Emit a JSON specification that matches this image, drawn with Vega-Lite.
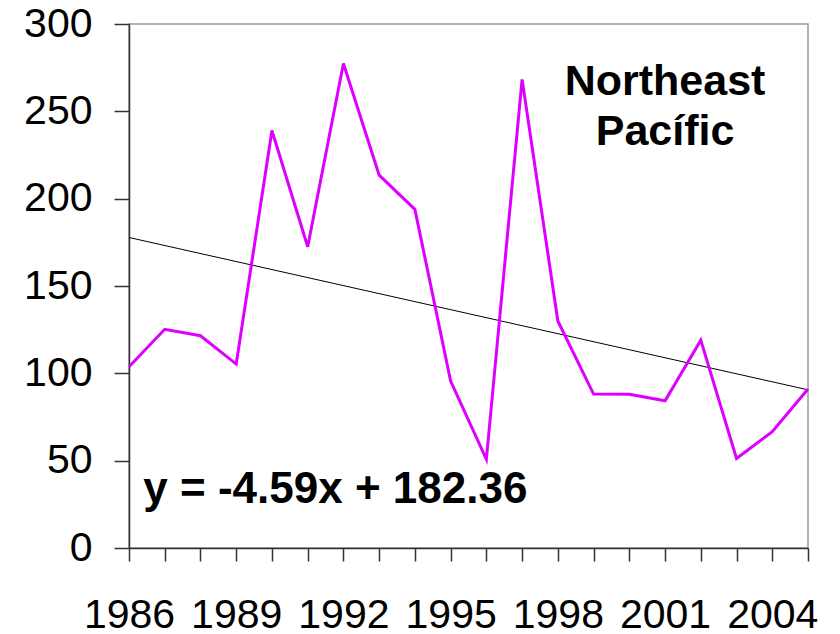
{
  "$schema": "https://vega.github.io/schema/vega-lite/v6.json",
  "width": 679,
  "height": 524,
  "autosize": {"type": "none"},
  "padding": {"left": 129, "top": 24, "right": 32, "bottom": 86},
  "background": "white",
  "config": {
    "font": "Liberation Sans",
    "view": {"stroke": "#9a9a9a", "strokeWidth": 1.5},
    "axis": {"labelOverlap": false}
  },
  "datasets": {
    "series": [
      {"year": 1986, "value": 103.8},
      {"year": 1987, "value": 125.2},
      {"year": 1988, "value": 121.5},
      {"year": 1989, "value": 105.3},
      {"year": 1990, "value": 239},
      {"year": 1991, "value": 172.5},
      {"year": 1992, "value": 277.4},
      {"year": 1993, "value": 213.5},
      {"year": 1994, "value": 193.9},
      {"year": 1995, "value": 95.6},
      {"year": 1996, "value": 50.8},
      {"year": 1997, "value": 268.3},
      {"year": 1998, "value": 130},
      {"year": 1999, "value": 88.1},
      {"year": 2000, "value": 88},
      {"year": 2001, "value": 84.3},
      {"year": 2002, "value": 119},
      {"year": 2003, "value": 51.3},
      {"year": 2004, "value": 66.6},
      {"year": 2005, "value": 91}
    ],
    "trend": [
      {"year": 1986, "value": 177.77},
      {"year": 2005, "value": 90.56}
    ],
    "labels": [
      {"year": 2001, "value": 259.3, "text": "Northeast"},
      {"year": 2001, "value": 230.5, "text": "Pacífic"}
    ],
    "equation": [
      {"year": 1986.4, "value": 25.8, "text": "y = -4.59x + 182.36"}
    ]
  },
  "encoding": {
    "x": {
      "field": "year", "type": "quantitative",
      "scale": {"domain": [1986, 2005], "nice": false, "zero": false},
      "axis": {
        "title": null,
        "grid": false,
        "values": [1986,1987,1988,1989,1990,1991,1992,1993,1994,1995,1996,1997,1998,1999,2000,2001,2002,2003,2004,2005],
        "format": "d",
        "labelExpr": "(datum.value - 1986) % 3 == 0 && datum.value < 2005 ? datum.label : ''",
        "labelFontSize": 41,
        "labelColor": "#000000",
        "labelPadding": 34,
        "labelOverlap": false,
        "labelFlush": false,
        "labelBound": false,
        "tickSize": 13,
        "tickColor": "#333333",
        "tickWidth": 1.5,
        "domainColor": "#333333",
        "domainWidth": 1.5
      }
    },
    "y": {
      "field": "value", "type": "quantitative",
      "scale": {"domain": [0, 300], "nice": false},
      "axis": {
        "title": null,
        "grid": false,
        "values": [0, 50, 100, 150, 200, 250, 300],
        "labelFontSize": 41,
        "labelColor": "#000000",
        "labelPadding": 22,
        "labelFlush": false,
        "tickSize": 15,
        "tickColor": "#333333",
        "tickWidth": 1.5,
        "domainColor": "#333333",
        "domainWidth": 1.5
      }
    }
  },
  "layer": [
    {
      "data": {"name": "trend"},
      "mark": {"type": "line", "color": "#000000", "strokeWidth": 1}
    },
    {
      "data": {"name": "series"},
      "mark": {"type": "line", "color": "#dd00ff", "strokeWidth": 3}
    },
    {
      "data": {"name": "labels"},
      "mark": {"type": "text", "fontSize": 43, "fontWeight": "bold", "align": "center", "baseline": "alphabetic", "color": "#000000"},
      "encoding": {"text": {"field": "text"}}
    },
    {
      "data": {"name": "equation"},
      "mark": {"type": "text", "fontSize": 44, "fontWeight": "bold", "align": "left", "baseline": "alphabetic", "color": "#000000"},
      "encoding": {"text": {"field": "text"}}
    }
  ]
}
